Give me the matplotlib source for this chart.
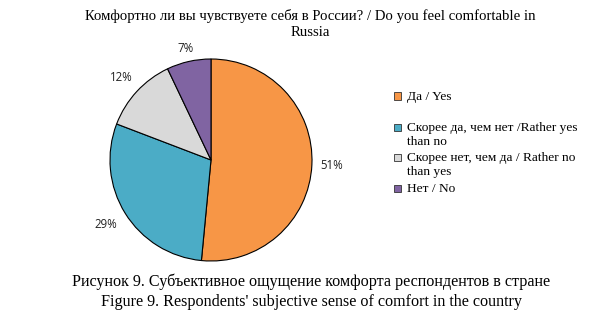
import numpy as np
import matplotlib.pyplot as plt
from matplotlib.patches import Rectangle

# %% Datos
labels = ["Да / Yes",
          "Скорее да, чем нет /Rather yes\nthan no",
          "Скорее нет, чем да / Rather no\nthan yes",
          "Нет / No"]
values = [51, 29, 12, 7]
colors = ["#F79646", "#4BACC6", "#D9D9D9", "#8064A2"]

title = "Комфортно ли вы чувствуете себя в России? / Do you feel comfortable in\nRussia"
caption1 = "Рисунок 9. Субъективное ощущение комфорта респондентов в стране"
caption2 = "Figure 9. Respondents' subjective sense of comfort in the country"

serif = "Liberation Serif"
W, H = 603, 330

# %% Figura
fig = plt.figure(figsize=(W/100, H/100), dpi=100)
ax = fig.add_axes([110/W, 69/H, 202/W, 202/H])

wedges, texts = ax.pie(
    values, colors=colors, startangle=90, counterclock=False,
    labels=[f"{v}%" for v in values], labeldistance=1.21, radius=1,
    wedgeprops=dict(edgecolor="black", linewidth=0.8))
# distancia de etiquetas un poco distinta por porción
dist = [1.20, 1.22, 1.21, 1.13]
for t, d in zip(texts, dist):
    x, y = t.get_position()
    r = np.hypot(x, y)
    t.set_position((x/r*d, y/r*d))
    t.set_fontsize(8.3)
    t.set_family("Open Sans")
    t.set_color("#222222")
    t.set_ha("center")
    t.set_va("center")
ax.set_xlim(-1, 1)
ax.set_ylim(-1, 1)
ax.set_aspect("equal")

fig.text(0.515, 1 - 9/H, title, ha="center", va="top", fontsize=10.6,
         family=serif, linespacing=1.3)

# leyenda manual (marcador alineado a la primera línea)
rows_y = [96, 127, 157, 188]
for lab, c, y in zip(labels, colors, rows_y):
    fig.add_artist(Rectangle((394/W, 1 - (y + 3.5)/H), 7/W, 7/H,
                             transform=fig.transFigure, facecolor=c,
                             edgecolor="#333333", linewidth=0.6))
    fig.text(407/W, 1 - (y - 5)/H, lab, ha="left", va="top", fontsize=9.6,
             family=serif, linespacing=1.2)

fig.text(0.516, 1 - 282/H, caption1, ha="center", va="center", fontsize=11.6, family=serif)
fig.text(0.516, 1 - 302/H, caption2, ha="center", va="center", fontsize=11.6, family=serif)

fig.savefig("out.png", dpi=100, facecolor="white")
